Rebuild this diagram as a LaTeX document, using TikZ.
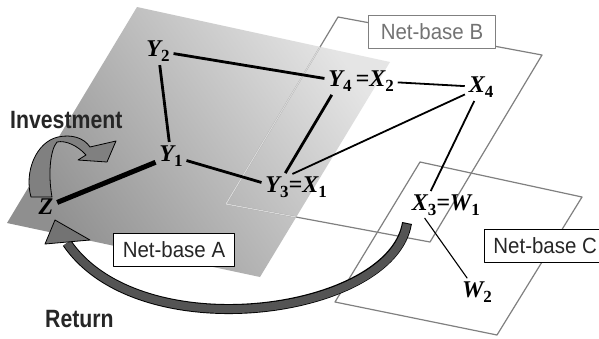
\documentclass[tikz,border=0pt]{standalone}
\usepackage{fontspec}
\usetikzlibrary{positioning}
\setmainfont{Liberation Serif}
\newfontfamily\headfont{Liberation Sans}[FakeStretch=0.85]
\newfontfamily\boxfont{Liberation Sans}[FakeStretch=0.93]
\newcommand{\idx}[1]{\raisebox{-4.5pt}{\fontsize{17}{17}\selectfont\upshape\bfseries #1}}
\definecolor{planeDark}{gray}{0.56}
\definecolor{planeLight}{gray}{0.9}
\definecolor{edgeGray}{gray}{0.5}
\definecolor{textGray}{gray}{0.45}
\definecolor{retGray}{gray}{0.33}
\definecolor{headGray}{gray}{0.45}
\definecolor{invGray}{gray}{0.5}
\begin{document}
\begin{tikzpicture}[x=1pt,y=-1pt,line join=round,
  vlabel/.style={font=\fontsize{24}{24}\selectfont\bfseries\itshape,inner sep=1pt,outer sep=1pt},
  netbox/.style={draw,line width=0.9pt,fill=white,font=\boxfont\fontsize{22}{22}\selectfont,
    minimum height=33pt,inner xsep=9pt,text=black!85},
  plane/.style={draw=edgeGray,line width=1.2pt},
  link/.style={line width=2.8pt,shorten <=2pt,shorten >=2pt},
  thinlink/.style={line width=1.8pt,shorten <=2pt,shorten >=2pt},
  hairlink/.style={line width=1.1pt,shorten <=1pt,shorten >=2pt}]
  \useasboundingbox (0,0) rectangle (599,338);
  \fill[white] (0,0) rectangle (599,338);

  % planes
  \shade[top color=planeLight,bottom color=planeDark,shading angle=-55]
    (137,7) -- (390,62) -- (260,277) -- (7,223) -- cycle;
  \draw[plane] (338,17) -- (542,55) -- (430,242) -- (226,204) -- cycle;
  \begin{scope}
    \clip (137,7) -- (390,62) -- (260,277) -- (7,223) -- cycle;
    \draw[line width=1.2pt,gray!30] (338,17) -- (542,55) -- (430,242) -- (226,204) -- cycle;
  \end{scope}
  \draw[plane] (420,162) -- (582,197) -- (497,335) -- (335,302) -- cycle;

  \node[netbox,draw=edgeGray,text=textGray,inner xsep=12pt] (nbB) at (432,32) {Net-base B};
  \node[netbox] (nbA) at (174,250) {Net-base A};
  \node[netbox,anchor=west] (nbC) at (484,246) {Net-base C};

  % variables
  \node[vlabel] (Y2) at (158,51) {Y\idx{2}};
  \node[vlabel] (Y1) at (171,156) {Y\idx{1}};
  \node[vlabel] (Z) at (46,207) {Z};
  \node[vlabel] (Y3) at (277,187) {Y\idx{3}};
  \node[vlabel,right=-4pt of Y3] (X1) {=X\idx{1}};
  \node[vlabel] (Y4) at (340,81) {Y\idx{4}};
  \node[vlabel,right=-4pt of Y4] (X2) {\,=X\idx{2}};
  \node[vlabel] (X4) at (481,87) {X\idx{4}};
  \node[vlabel] (X3) at (424,205) {X\idx{3}};
  \node[vlabel,right=-4pt of X3] (W1) {=W\idx{1}};
  \node[vlabel] (W2) at (477,292) {W\idx{2}};

  \draw[link] (Y2) -- (Y4);
  \draw[link] (Y2) -- (Y1);
  \draw[link,line width=5pt] (Y1) -- (Z);
  \draw[link] (Y1) -- (Y3);
  \draw[link] (Y4) -- (Y3);
  \draw[thinlink] (X2) -- (X4);
  \draw[thinlink] (Y3.north east) -- (X4);
  \draw[thinlink] (X4) -- (X3);
  \draw[hairlink] (X3.south) -- (W2);

  % investment and return
  \filldraw[fill=invGray,draw=black,line width=0.8pt]
    (31,197) .. controls (24,172) and (36,142) .. (58,137)
    .. controls (72,134) and (84,138) .. (90,147) -- (116,141) -- (107,162)
    -- (78,160) -- (86,155) .. controls (78,146) and (66,140) .. (57,142)
    .. controls (50,150) and (48,175) .. (52,197) -- cycle;
  \node[font=\headfont\bfseries\fontsize{25}{25}\selectfont,text=black!85,anchor=base west,inner sep=0pt]
    (inv) at (10,128) {Investment};

  \coordinate (rettail) at (407,223);
  \coordinate (rethead) at (67,243);
  \draw[line width=10pt,black] (rettail) .. controls (392,315) and (140,350) .. (rethead);
  \draw[line width=8pt,retGray,shorten <=1pt] (rettail) .. controls (392,315) and (140,350) .. (rethead);
  \filldraw[fill=headGray,draw=black,line width=0.8pt] (55,220) -- (90,240) -- (45,244) -- cycle;
  \node[font=\headfont\bfseries\fontsize{25}{25}\selectfont,text=black!85,anchor=base west,inner sep=0pt]
    (ret) at (45,327) {Return};
\end{tikzpicture}
\end{document}
